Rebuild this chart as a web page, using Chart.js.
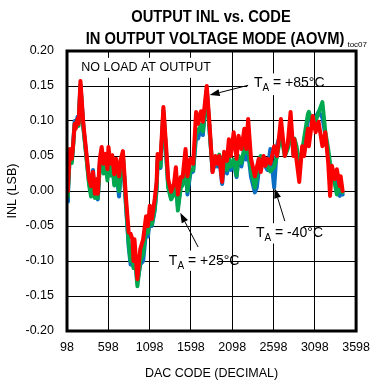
<!DOCTYPE html>
<html>
<head>
<meta charset="utf-8">
<script src="https://cdn.jsdelivr.net/npm/chart.js@4/dist/chart.umd.min.js"></script>
<style>
  html, body { margin: 0; padding: 0; background: #fff; }
  #wrap { width: 379px; height: 383px; }
</style>
</head>
<body>
<div id="wrap"><canvas id="c" width="379" height="383"></canvas></div>
<script>
// DAC codes sampled along the sweep
const codes = [
  98, 110, 133, 156, 168, 191, 203, 226, 238, 261,
  296, 331, 366, 390, 413, 436, 460, 471, 495, 518,
  541, 565, 588, 600, 623, 646, 670, 693, 728, 751,
  775, 810, 845, 868, 891, 903, 915, 950, 985, 1020,
  1055, 1078, 1101, 1125, 1160, 1183, 1195, 1230, 1265, 1300,
  1323, 1358, 1393, 1416, 1440, 1475, 1498, 1533, 1556, 1591,
  1626, 1661, 1685, 1720, 1743, 1790, 1825, 1860, 1895, 1918,
  1941, 1976, 2000, 2035, 2058, 2081, 2116, 2151, 2175, 2210,
  2245, 2268, 2291, 2326, 2373, 2396, 2420, 2443, 2478, 2501,
  2525, 2560, 2606, 2641, 2688, 2735, 2770, 2805, 2840, 2851,
  2875, 2910, 2945, 2968, 3015, 3026, 3073, 3108, 3143, 3190,
  3225, 3260, 3283, 3306, 3341, 3365, 3400, 3411, 3435
];

// INL (LSB) at TA = -40°C
const inlMinus40 = [
  -0.015, -0.005, 0.058, 0.044, 0.060, 0.100, 0.095, 0.106, 0.098, 0.152,
  0.092, 0.052, 0.012, 0.000, 0.030, -0.008, 0.015, -0.012, 0.040, 0.058,
  0.030, 0.045, 0.020, 0.055, 0.028, 0.045, 0.012, 0.035, -0.008, 0.030,
  0.048, -0.018, -0.080, -0.105, -0.095, -0.108, -0.090, -0.130, -0.105, -0.100,
  -0.058, -0.065, -0.040, -0.050, -0.028, 0.002, 0.042, 0.033, 0.113, 0.050,
  0.008, -0.010, 0.000, 0.020, -0.022, 0.008, 0.010, 0.045, -0.005, 0.025,
  0.028, 0.078, 0.075, 0.090, 0.080, 0.145, 0.085, 0.028, 0.042, 0.035,
  0.048, 0.010, 0.038, 0.025, 0.045, 0.030, 0.040, 0.020, 0.048, 0.035,
  0.058, 0.045, 0.055, 0.020, -0.002, 0.005, 0.030, 0.040, 0.040, 0.035,
  0.030, 0.060, 0.005, 0.065, 0.085, 0.055, 0.062, 0.095, 0.052, 0.070,
  0.060, 0.035, 0.055, 0.070, 0.100, 0.105, 0.098, 0.105, 0.113, 0.105,
  0.080, 0.050, 0.030, 0.030, 0.015, 0.007, -0.007, 0.000, -0.005
];

// INL (LSB) at TA = +25°C
const inl25 = [
  -0.008, 0.000, 0.055, 0.040, 0.057, 0.095, 0.090, 0.100, 0.093, 0.150,
  0.090, 0.050, 0.008, -0.008, 0.018, -0.010, 0.010, -0.010, 0.035, 0.055,
  0.025, 0.042, 0.015, 0.050, 0.022, 0.040, 0.008, 0.030, 0.000, 0.035,
  0.050, -0.015, -0.075, -0.100, -0.090, -0.110, -0.085, -0.136, -0.100, -0.090,
  -0.050, -0.060, -0.035, -0.048, -0.025, 0.005, 0.045, 0.035, 0.115, 0.050,
  0.005, -0.012, -0.005, 0.015, -0.028, 0.005, 0.008, 0.040, 0.000, 0.030,
  0.030, 0.088, 0.085, 0.095, 0.085, 0.143, 0.085, 0.030, 0.045, 0.040,
  0.052, 0.020, 0.040, 0.030, 0.048, 0.035, 0.045, 0.022, 0.050, 0.040,
  0.062, 0.055, 0.060, 0.030, 0.005, 0.020, 0.045, 0.050, 0.045, 0.040,
  0.035, 0.028, 0.035, 0.050, 0.080, 0.050, 0.060, 0.090, 0.055, 0.075,
  0.065, 0.040, 0.055, 0.075, 0.110, 0.113, 0.095, 0.100, 0.112, 0.127,
  0.085, 0.060, 0.040, 0.025, 0.010, -0.005, 0.008, 0.000, -0.002
];

// INL (LSB) at TA = +85°C
const inl85 = [
  0.000, 0.006, 0.060, 0.046, 0.060, 0.096, 0.089, 0.103, 0.096, 0.157,
  0.096, 0.056, 0.017, 0.007, 0.027, -0.004, 0.017, -0.004, 0.046, 0.063,
  0.039, 0.053, 0.031, 0.063, 0.039, 0.051, 0.024, 0.046, 0.021, 0.046,
  0.057, -0.007, -0.059, -0.061, -0.069, -0.100, -0.069, -0.126, -0.083, -0.069,
  -0.036, -0.050, -0.021, -0.040, -0.011, 0.013, 0.053, 0.046, 0.120, 0.060,
  0.017, -0.001, 0.010, 0.034, -0.005, 0.020, 0.020, 0.060, 0.021, 0.046,
  0.039, 0.113, 0.096, 0.114, 0.099, 0.150, 0.093, 0.027, 0.050, 0.039,
  0.050, 0.013, 0.056, 0.043, 0.074, 0.050, 0.084, 0.046, 0.079, 0.060,
  0.089, 0.060, 0.103, 0.046, 0.021, 0.034, 0.046, 0.027, 0.050, 0.036,
  0.046, 0.039, 0.064, 0.050, 0.103, 0.050, 0.067, 0.113, 0.050, 0.074,
  0.046, 0.013, 0.064, 0.050, 0.089, 0.064, 0.107, 0.084, 0.099, 0.064,
  0.084, 0.041, -0.007, 0.036, 0.017, 0.031, 0.007, 0.021, 0.000
];

const xTicks = [98, 598, 1098, 1598, 2098, 2598, 3098, 3598];
const yTicks = [-0.20, -0.15, -0.10, -0.05, 0.00, 0.05, 0.10, 0.15, 0.20];

const FONT = "'Liberation Sans', Arial, Helvetica, sans-serif";

function series(values) {
  return codes.map((c, i) => ({ x: c, y: values[i] }));
}

// text with a subscript: "T" + "A" + rest
function drawTemp(ctx, x, baseline, rest) {
  ctx.save();
  ctx.fillStyle = '#000';
  ctx.textAlign = 'left';
  ctx.textBaseline = 'alphabetic';
  ctx.font = '14px ' + FONT;
  ctx.fillText('T', x, baseline);
  let w = ctx.measureText('T').width;
  ctx.font = '10px ' + FONT;
  ctx.fillText('A', x + w, baseline + 4);
  w += ctx.measureText('A').width;
  ctx.font = '14px ' + FONT;
  ctx.fillText(rest, x + w, baseline);
  ctx.restore();
}

function whiteBox(ctx, x0, y0, x1, y1) {
  ctx.save();
  ctx.fillStyle = '#fff';
  ctx.fillRect(x0, y0, x1 - x0, y1 - y0);
  ctx.restore();
}

function arrow(ctx, x0, y0, x1, y1) {
  ctx.save();
  ctx.strokeStyle = '#000';
  ctx.fillStyle = '#000';
  ctx.lineWidth = 1;
  const ang = Math.atan2(y1 - y0, x1 - x0);
  const len = 10, half = 3.5;
  const bx = x1 - len * Math.cos(ang), by = y1 - len * Math.sin(ang);
  ctx.beginPath();
  ctx.moveTo(x0, y0);
  ctx.lineTo(bx, by);
  ctx.stroke();
  ctx.beginPath();
  ctx.moveTo(x1, y1);
  ctx.lineTo(bx + half * Math.sin(ang), by - half * Math.cos(ang));
  ctx.lineTo(bx - half * Math.sin(ang), by + half * Math.cos(ang));
  ctx.closePath();
  ctx.fill();
  ctx.restore();
}

// condensed bold heading text
function heading(ctx, text, cx, baseline) {
  ctx.save();
  ctx.font = 'bold 16px ' + FONT;
  ctx.textAlign = 'center';
  ctx.textBaseline = 'alphabetic';
  ctx.fillStyle = '#000';
  ctx.translate(cx, baseline);
  ctx.scale(0.92, 1);
  ctx.fillText(text, 0, 0);
  ctx.restore();
}

const decorations = {
  id: 'decorations',
  afterDatasetsDraw(chart) {
    const ctx = chart.ctx;
    const xs = chart.scales.x, ys = chart.scales.y;
    const px = v => xs.getPixelForValue(v);
    const py = v => ys.getPixelForValue(v);

    // "NO LOAD AT OUTPUT"
    ctx.save();
    ctx.font = '12.5px ' + FONT;
    const nl = 'NO LOAD AT OUTPUT';
    const nlw = ctx.measureText(nl).width;
    const nlx = px(1055), nly = py(0.176);
    whiteBox(ctx, nlx - nlw / 2 - 3, nly - 10, nlx + nlw / 2 + 3, nly + 10);
    ctx.fillStyle = '#000';
    ctx.textAlign = 'center';
    ctx.textBaseline = 'middle';
    ctx.fillText(nl, nlx, nly);
    ctx.restore();

    // TA = +85°C
    whiteBox(ctx, px(2280), py(0.168), px(2920), py(0.137));
    drawTemp(ctx, px(2361), py(0.149), ' = +85°C');
    arrow(ctx, px(2291), py(0.151), px(1825), py(0.137));

    // TA = -40°C
    whiteBox(ctx, px(2300), py(-0.046), px(2960), py(-0.075));
    drawTemp(ctx, px(2385), py(-0.066), ' = -40°C');
    arrow(ctx, px(2735), py(-0.043), px(2612), py(0.004));

    // TA = +25°C
    whiteBox(ctx, px(1210), py(-0.085), px(1925), py(-0.114));
    drawTemp(ctx, px(1331), py(-0.106), ' = +25°C');
    arrow(ctx, px(1685), py(-0.080), px(1469), py(-0.031));
  },
  afterDraw(chart) {
    const ctx = chart.ctx;
    const a = chart.chartArea;
    // plot frame
    ctx.save();
    ctx.strokeStyle = '#000';
    ctx.lineWidth = 3;
    ctx.strokeRect(a.left, a.top, a.right - a.left, a.bottom - a.top);
    ctx.restore();

    // titles
    heading(ctx, 'OUTPUT INL vs. CODE', 211, 22);
    heading(ctx, 'IN OUTPUT VOLTAGE MODE (AOVM)', 215, 44);

    ctx.save();
    ctx.fillStyle = '#000';
    ctx.font = '8px ' + FONT;
    ctx.textAlign = 'right';
    ctx.textBaseline = 'alphabetic';
    ctx.fillText('toc07', 367, 47);

    // axis titles
    ctx.font = '12.5px ' + FONT;
    ctx.textAlign = 'center';
    ctx.textBaseline = 'middle';
    ctx.fillText('DAC CODE (DECIMAL)', (a.left + a.right) / 2, 374);
    ctx.translate(13, (a.top + a.bottom) / 2);
    ctx.rotate(-Math.PI / 2);
    ctx.fillText('INL (LSB)', 0, 0);
    ctx.restore();
  }
};

new Chart(document.getElementById('c'), {
  type: 'line',
  data: {
    // first dataset is painted last (on top)
    datasets: [
      { label: 'TA = +85°C', data: series(inl85), borderColor: '#ff0000', borderWidth: 4 },
      { label: 'TA = +25°C', data: series(inl25), borderColor: '#00a84f', borderWidth: 4 },
      { label: 'TA = -40°C', data: series(inlMinus40), borderColor: '#0a6fc2', borderWidth: 4 }
    ]
  },
  options: {
    responsive: false,
    animation: false,
    devicePixelRatio: 1,
    layout: { padding: { left: 0, right: 12, top: 51, bottom: 0 } },
    elements: {
      point: { radius: 0 },
      line: { tension: 0, borderJoinStyle: 'round', borderCapStyle: 'round', fill: false }
    },
    plugins: {
      legend: { display: false },
      tooltip: { enabled: false },
      title: { display: false }
    },
    scales: {
      x: {
        type: 'linear',
        min: 98,
        max: 3598,
        afterBuildTicks(scale) { scale.ticks = xTicks.map(v => ({ value: v })); },
        afterFit(scale) { scale.height = 52; },
        ticks: {
          color: '#000',
          font: { family: FONT, size: 12.5 },
          padding: 9,
          maxRotation: 0,
          autoSkip: false,
          callback: v => String(v)
        },
        grid: { color: '#000', lineWidth: 1, drawTicks: false },
        border: { display: false }
      },
      y: {
        type: 'linear',
        min: -0.2,
        max: 0.2,
        afterBuildTicks(scale) { scale.ticks = yTicks.map(v => ({ value: v })); },
        afterFit(scale) { scale.width = 67; },
        ticks: {
          color: '#000',
          font: { family: FONT, size: 12.5 },
          padding: 13,
          autoSkip: false,
          callback: v => Number(v).toFixed(2)
        },
        grid: { color: '#000', lineWidth: 1, drawTicks: false },
        border: { display: false }
      }
    }
  },
  plugins: [decorations]
});
</script>
</body>
</html>
